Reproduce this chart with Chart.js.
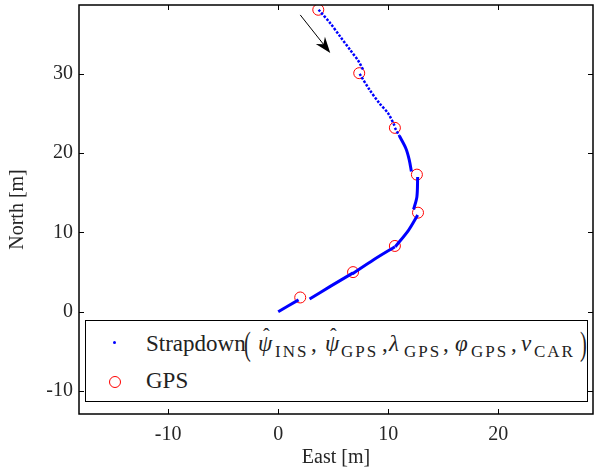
<!DOCTYPE html>
<html>
<head>
<meta charset="utf-8">
<script src="https://cdn.jsdelivr.net/npm/chart.js@4/dist/chart.umd.min.js"></script>
<style>
  body { margin: 0; background: #fff; }
  #wrap { position: relative; width: 595px; height: 472px; }
  #legend {
    position: absolute; left: 85px; top: 320px; width: 501px; height: 80px;
    border: 1.5px solid #000; background: #fff;
    font-family: "Liberation Serif", serif; font-size: 23px; color: #222;
  }
  #legend span { position: absolute; line-height: 1; white-space: nowrap; }
  .t { top: 11px; }
  .s { top: 22px; font-size: 17px; letter-spacing: 2px; }
  .p { top: 6px; font-size: 34px; transform: scaleX(0.6); transform-origin: left; }
  .h { top: 5px; font-size: 20px; }
  i { font-style: italic; }
  .dot { left: 27px; top: 20px; width: 3px; height: 3px; background: #00f; border-radius: 50%; }
  .ring { left: 23px; top: 55px; width: 10px; height: 10px; border: 1px solid #f00; border-radius: 50%; }
</style>
</head>
<body>
<div id="wrap">
  <canvas id="chart" width="595" height="472"></canvas>
  <div id="legend">
    <span class="dot"></span>
    <span class="t" style="left:60px">Strapdown</span>
    <span class="p" style="left:158px">(</span>
    <span class="t" style="left:172px"><i>ψ</i></span><span class="h" style="left:177px">ˆ</span>
    <span class="s" style="left:189px">INS</span>
    <span class="t" style="left:225px">,</span>
    <span class="t" style="left:239px"><i>ψ</i></span><span class="h" style="left:244px">ˆ</span>
    <span class="s" style="left:255px">GPS</span>
    <span class="t" style="left:296px">,</span>
    <span class="t" style="left:303px"><i>λ</i></span>
    <span class="s" style="left:318px">GPS</span>
    <span class="t" style="left:357px">,</span>
    <span class="t" style="left:369px"><i>φ</i></span>
    <span class="s" style="left:385px">GPS</span>
    <span class="t" style="left:425px">,</span>
    <span class="t" style="left:435px"><i>v</i></span>
    <span class="s" style="left:448px">CAR</span>
    <span class="p" style="left:494px">)</span>
    <span class="ring"></span>
    <span class="t" style="left:60px; top:48px">GPS</span>
  </div>
</div>
<script>
// strapdown track, segments split by null (reset at every GPS fix)
const strapEast  = [3.67, 4.73, 5.64, 6.55, 7.3, 7.76, null, 7.4, 8.3, 9.2, 10.0, 10.6, null, 10.6, 11.0, 11.6, 11.9, 12.1, null, 12.67, 12.6, 12.3, null, 12.67, 11.85, 10.64, null, 10.6, 8.67, 6.76, null, 6.8, 4.73, 2.85, null, 1.85, 0];
const strapNorth = [38.1, 36.4, 34.7, 33.0, 31.6, 30.4, null, 30.0, 28.0, 26.3, 25.0, 23.4, null, 23.2, 22.2, 20.6, 19.2, 17.7, null, 17.0, 14.5, 12.9, null, 12.2, 10.3, 8.2, null, 8.2, 6.56, 4.8, null, 4.9, 3.2, 1.6, null, 1.5, 0];

const gpsEast  = [3.64, 7.36, 10.6, 12.6, 12.7, 10.6, 6.8, 2.0];
const gpsNorth = [38.1, 30.1, 23.2, 17.3, 12.5, 8.3, 5.0, 1.8];

const xTicks = [-10, 0, 10, 20];
const yTicks = [-10, 0, 10, 20, 30];

// direction arrow (tail, tip) in data units
const arrowEast  = [2.0, 4.73];
const arrowNorth = [37.45, 32.66];

const serif = '"Liberation Serif", serif';

const frame = {
  id: 'frame',
  afterDraw(chart) {
    const ctx = chart.ctx;
    const a = chart.chartArea;
    const xs = chart.scales.x, ys = chart.scales.y;
    ctx.save();
    ctx.strokeStyle = '#000';
    ctx.lineWidth = 1;
    xTicks.forEach(v => {
      const px = Math.round(xs.getPixelForValue(v)) + 0.5;
      ctx.beginPath();
      ctx.moveTo(px, a.bottom); ctx.lineTo(px, a.bottom - 5);
      ctx.moveTo(px, a.top); ctx.lineTo(px, a.top + 5);
      ctx.stroke();
    });
    yTicks.forEach(v => {
      const py = Math.round(ys.getPixelForValue(v)) + 0.5;
      ctx.beginPath();
      ctx.moveTo(a.left, py); ctx.lineTo(a.left + 5, py);
      ctx.moveTo(a.right, py); ctx.lineTo(a.right - 5, py);
      ctx.stroke();
    });
    ctx.lineWidth = 1.5;
    ctx.strokeRect(a.left, a.top, a.right - a.left, a.bottom - a.top);

    // arrow
    const x0 = xs.getPixelForValue(arrowEast[0]), y0 = ys.getPixelForValue(arrowNorth[0]);
    const x1 = xs.getPixelForValue(arrowEast[1]), y1 = ys.getPixelForValue(arrowNorth[1]);
    const ang = Math.atan2(y1 - y0, x1 - x0);
    ctx.lineWidth = 1;
    ctx.beginPath();
    ctx.moveTo(x0, y0); ctx.lineTo(x1 - 8 * Math.cos(ang), y1 - 8 * Math.sin(ang));
    ctx.stroke();
    ctx.fillStyle = '#000';
    ctx.beginPath();
    ctx.moveTo(x1, y1);
    ctx.lineTo(x1 - 17 * Math.cos(ang - 0.35), y1 - 17 * Math.sin(ang - 0.35));
    ctx.lineTo(x1 - 11 * Math.cos(ang), y1 - 11 * Math.sin(ang));
    ctx.lineTo(x1 - 17 * Math.cos(ang + 0.35), y1 - 17 * Math.sin(ang + 0.35));
    ctx.closePath();
    ctx.fill();
    ctx.restore();
  }
};

new Chart(document.getElementById('chart').getContext('2d'), {
  type: 'scatter',
  data: {
    datasets: [{
      label: 'Strapdown',
      data: strapEast.map((x, i) => ({ x: x, y: strapNorth[i] })),
      showLine: true,
      spanGaps: false,
      borderColor: '#0000ff',
      borderWidth: 3,
      tension: 0.3,
      pointRadius: 0,
      segment: {
        borderDash: c => c.p0.parsed.y > 22.9 ? [2.5, 1.5] : undefined,
        borderWidth: c => c.p0.parsed.y > 22.9 ? 2.5 : 3
      }
    }, {
      label: 'GPS',
      data: gpsEast.map((x, i) => ({ x: x, y: gpsNorth[i] })),
      pointRadius: 5.5,
      pointBorderWidth: 1,
      pointBorderColor: '#ff0000',
      pointBackgroundColor: 'rgba(0,0,0,0)'
    }]
  },
  options: {
    responsive: false,
    animation: false,
    layout: { autoPadding: false, padding: { top: 5, right: 2, left: 0, bottom: 0 } },
    plugins: { legend: { display: false }, tooltip: { enabled: false } },
    scales: {
      x: {
        type: 'linear', min: -18.1, max: 28.6,
        afterBuildTicks: s => { s.ticks = xTicks.map(v => ({ value: v })); },
        afterFit: s => { s.height = 58; s.paddingLeft = 0; s.paddingRight = 0; },
        grid: { drawOnChartArea: false, drawTicks: false },
        border: { display: false },
        ticks: { padding: 9, color: '#262626', font: { family: serif, size: 20 } },
        title: { display: true, text: 'East [m]', color: '#262626', padding: { top: 0, bottom: 2 }, font: { family: serif, size: 20 } }
      },
      y: {
        type: 'linear', min: -12.9, max: 38.7,
        afterBuildTicks: s => { s.ticks = yTicks.map(v => ({ value: v })); },
        afterFit: s => { s.width = 79; s.paddingTop = 0; s.paddingBottom = 0; },
        grid: { drawOnChartArea: false, drawTicks: false },
        border: { display: false },
        ticks: { padding: 6, color: '#262626', font: { family: serif, size: 20 } },
        title: { display: true, text: 'North [m]', color: '#262626', padding: { top: 6, bottom: 0 }, font: { family: serif, size: 20 } }
      }
    }
  },
  plugins: [frame]
});
</script>
</body>
</html>
